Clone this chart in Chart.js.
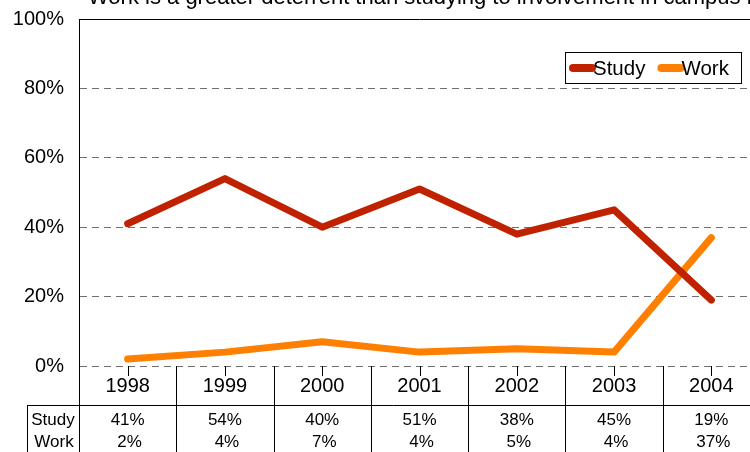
<!DOCTYPE html>
<html>
<head>
<meta charset="utf-8">
<script src="https://cdn.jsdelivr.net/npm/chart.js@4/dist/chart.umd.min.js"></script>
<style>
  html, body { margin: 0; padding: 0; background: #fff; overflow: hidden; }
  #wrap { position: relative; width: 760px; height: 452px; }
</style>
</head>
<body>
<div id="wrap"><canvas id="grafico" width="760" height="452"></canvas></div>
<script>
// Datos del gráfico
const anios = ['1998', '1999', '2000', '2001', '2002', '2003', '2004'];
const estudio = [41, 54, 40, 51, 38, 45, 19];
const trabajo = [2, 4, 7, 4, 5, 4, 37];
const etiquetasY = [0, 20, 40, 60, 80, 100];
const titulo = 'Work is a greater deterrent than studying to involvement in campus life';

const fuente = '"Liberation Sans", Arial, sans-serif';

// Título recortado, leyenda y tabla de datos
const extras = {
  id: 'extras',
  afterDraw(chart) {
    const ctx = chart.ctx;
    const area = chart.chartArea;
    const x = chart.scales.x;
    ctx.save();

    // título (queda cortado arriba)
    ctx.fillStyle = '#000';
    ctx.font = '22px ' + fuente;
    ctx.textAlign = 'left';
    ctx.textBaseline = 'alphabetic';
    ctx.fillText(titulo, 88, 4);

    // borde superior del área
    ctx.strokeStyle = '#000';
    ctx.lineWidth = 1;
    ctx.beginPath();
    ctx.moveTo(area.left, area.top + 0.5);
    ctx.lineTo(area.right, area.top + 0.5);
    ctx.stroke();

    // tabla de datos
    const paso = x.getPixelForValue(1) - x.getPixelForValue(0);
    const fila = 405;
    ctx.beginPath();
    ctx.moveTo(27, fila + 0.5);
    ctx.lineTo(area.right, fila + 0.5);
    ctx.moveTo(27.5, fila);
    ctx.lineTo(27.5, 452);
    ctx.moveTo(area.left + 0.5, area.bottom);
    ctx.lineTo(area.left + 0.5, 452);
    anios.forEach((a, i) => {
      const cx = Math.round(x.getPixelForValue(i)) + 0.5;
      ctx.moveTo(cx, area.bottom);
      ctx.lineTo(cx, area.bottom + 10);
      const bx = Math.round(x.getPixelForValue(i) + paso / 2) + 0.5;
      ctx.moveTo(bx, area.bottom);
      ctx.lineTo(bx, 452);
    });
    ctx.stroke();

    ctx.font = '17px ' + fuente;
    ctx.textAlign = 'center';
    ctx.textBaseline = 'middle';
    ctx.fillText('Study', 53, 420);
    ctx.fillText('Work', 54, 442);
    anios.forEach((a, i) => {
      const cx = x.getPixelForValue(i);
      ctx.fillText(estudio[i] + '%', cx, 420);
      ctx.fillText(trabajo[i] + '%', cx + 2, 442);
    });

    // leyenda
    const lx = 565, ly = 52, lw = 176, lh = 31;
    ctx.fillStyle = '#fff';
    ctx.fillRect(lx, ly, lw, lh);
    ctx.strokeRect(lx + 0.5, ly + 0.5, lw, lh);
    ctx.lineCap = 'round';
    ctx.lineWidth = 8;
    ctx.font = '20.5px ' + fuente;
    ctx.textAlign = 'left';
    let px = lx + 8;
    chart.data.datasets.forEach(ds => {
      ctx.strokeStyle = ds.borderColor;
      ctx.beginPath();
      ctx.moveTo(px, ly + 16);
      ctx.lineTo(px + 19, ly + 16);
      ctx.stroke();
      ctx.fillStyle = '#000';
      ctx.fillText(ds.label, px + 20, ly + 17);
      px += 20 + ctx.measureText(ds.label).width + 16;
    });
    ctx.restore();
  }
};

new Chart(document.getElementById('grafico'), {
  type: 'line',
  data: {
    labels: anios,
    datasets: [
      { label: 'Study', data: estudio, borderColor: '#C02200', borderWidth: 7,
        borderCapStyle: 'round', borderJoinStyle: 'round', pointRadius: 0, tension: 0 },
      { label: 'Work', data: trabajo, borderColor: '#FF8000', borderWidth: 7,
        borderCapStyle: 'round', borderJoinStyle: 'round', pointRadius: 0, tension: 0 }
    ]
  },
  options: {
    responsive: false,
    animation: false,
    layout: { padding: { top: 19, left: 0, right: 0, bottom: 0 } },
    plugins: { legend: { display: false }, title: { display: false }, tooltip: { enabled: false } },
    scales: {
      x: {
        offset: true,
        grid: { display: false, drawTicks: false },
        border: { display: false },
        ticks: { color: '#000', font: { family: fuente, size: 20 }, padding: 8, maxRotation: 0 },
        afterFit(s) { s.height = 86; }
      },
      y: {
        min: 0, max: 100,
        afterBuildTicks(s) { s.ticks = etiquetasY.map(v => ({ value: v })); },
        grid: {
          drawTicks: false,
          color: c => c.tick && c.tick.value === 100 ? 'rgba(0,0,0,0)' : '#707070',
          lineWidth: 1
        },
        border: { display: true, color: '#000', width: 1, dash: [7, 5] },
        ticks: { color: '#000', font: { family: fuente, size: 20 }, padding: 15,
          callback: v => v + '%' },
        afterFit(s) { s.width = 79; s.paddingTop = 0; s.paddingBottom = 0; }
      }
    }
  },
  plugins: [extras]
});
</script>
</body>
</html>
